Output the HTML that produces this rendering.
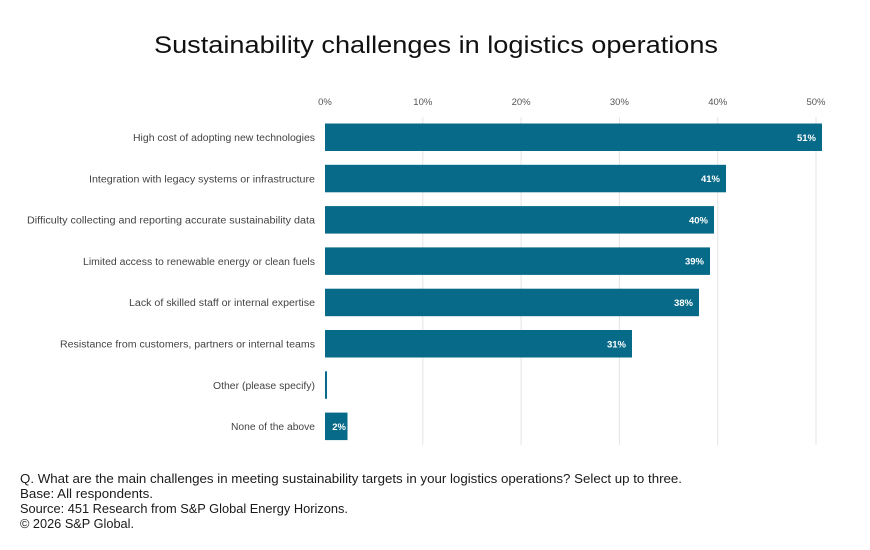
<!DOCTYPE html>
<html>
<head>
<meta charset="utf-8">
<style>
html,body{margin:0;padding:0;background:#fff;}
svg{display:block;}
text{font-family:"Liberation Sans",sans-serif;}
</style>
</head>
<body>
<svg width="870" height="550" viewBox="0 0 870 550" xmlns="http://www.w3.org/2000/svg">
<rect width="870" height="550" fill="#fff"/>
<!-- Title -->
<text x="154" y="53" font-size="24" fill="#111" textLength="564" lengthAdjust="spacingAndGlyphs">Sustainability challenges in logistics operations</text>

<!-- gridlines -->
<g stroke="#e4e4e4" stroke-width="1">
<line x1="422.8" y1="117" x2="422.8" y2="445"/>
<line x1="521.1" y1="117" x2="521.1" y2="445"/>
<line x1="619.4" y1="117" x2="619.4" y2="445"/>
<line x1="717.7" y1="117" x2="717.7" y2="445"/>
<line x1="816" y1="117" x2="816" y2="445"/>
</g>

<!-- tick labels -->
<g font-size="9.5" fill="#555" text-anchor="middle">
<text x="325" y="105">0%</text>
<text x="422.8" y="105">10%</text>
<text x="521.1" y="105">20%</text>
<text x="619.4" y="105">30%</text>
<text x="717.7" y="105">40%</text>
<text x="816" y="105">50%</text>
</g>

<!-- bars -->
<g fill="#066a88">
<rect x="325" y="123.5" width="497" height="27.5"/>
<rect x="325" y="164.8" width="401" height="27.5"/>
<rect x="325" y="206.1" width="389" height="27.5"/>
<rect x="325" y="247.4" width="385" height="27.5"/>
<rect x="325" y="288.7" width="374" height="27.5"/>
<rect x="325" y="330" width="307" height="27.5"/>
<rect x="325" y="371.3" width="2" height="27.5"/>
<rect x="325" y="412.6" width="22.5" height="27.5"/>
</g>

<!-- value labels -->
<g font-size="9.5" font-weight="bold" fill="#fff" text-anchor="end">
<text x="816" y="140.8">51%</text>
<text x="720" y="182.1">41%</text>
<text x="708" y="223.4">40%</text>
<text x="704" y="264.7">39%</text>
<text x="693" y="306">38%</text>
<text x="626" y="347.3">31%</text>
<text x="346" y="429.9">2%</text>
</g>

<!-- category labels -->
<g font-size="10" fill="#444">
<text x="133" y="141" textLength="182" lengthAdjust="spacingAndGlyphs">High cost of adopting new technologies</text>
<text x="89" y="182.3" textLength="226" lengthAdjust="spacingAndGlyphs">Integration with legacy systems or infrastructure</text>
<text x="27" y="223.6" textLength="288" lengthAdjust="spacingAndGlyphs">Difficulty collecting and reporting accurate sustainability data</text>
<text x="83" y="264.9" textLength="232" lengthAdjust="spacingAndGlyphs">Limited access to renewable energy or clean fuels</text>
<text x="129" y="306.2" textLength="186" lengthAdjust="spacingAndGlyphs">Lack of skilled staff or internal expertise</text>
<text x="60" y="347.5" textLength="255" lengthAdjust="spacingAndGlyphs">Resistance from customers, partners or internal teams</text>
<text x="213" y="388.8" textLength="102" lengthAdjust="spacingAndGlyphs">Other (please specify)</text>
<text x="231" y="430.1" textLength="84" lengthAdjust="spacingAndGlyphs">None of the above</text>
</g>

<!-- footer -->
<g font-size="13" fill="#1a1a1a">
<text x="20" y="483" textLength="662" lengthAdjust="spacingAndGlyphs">Q. What are the main challenges in meeting sustainability targets in your logistics operations? Select up to three.</text>
<text x="20" y="498" textLength="133" lengthAdjust="spacingAndGlyphs">Base:  All respondents.</text>
<text x="20" y="513" textLength="328" lengthAdjust="spacingAndGlyphs">Source: 451 Research from S&amp;P Global Energy Horizons.</text>
<text x="20" y="528" textLength="114" lengthAdjust="spacingAndGlyphs">© 2026 S&amp;P Global.</text>
</g>
</svg>
</body>
</html>
